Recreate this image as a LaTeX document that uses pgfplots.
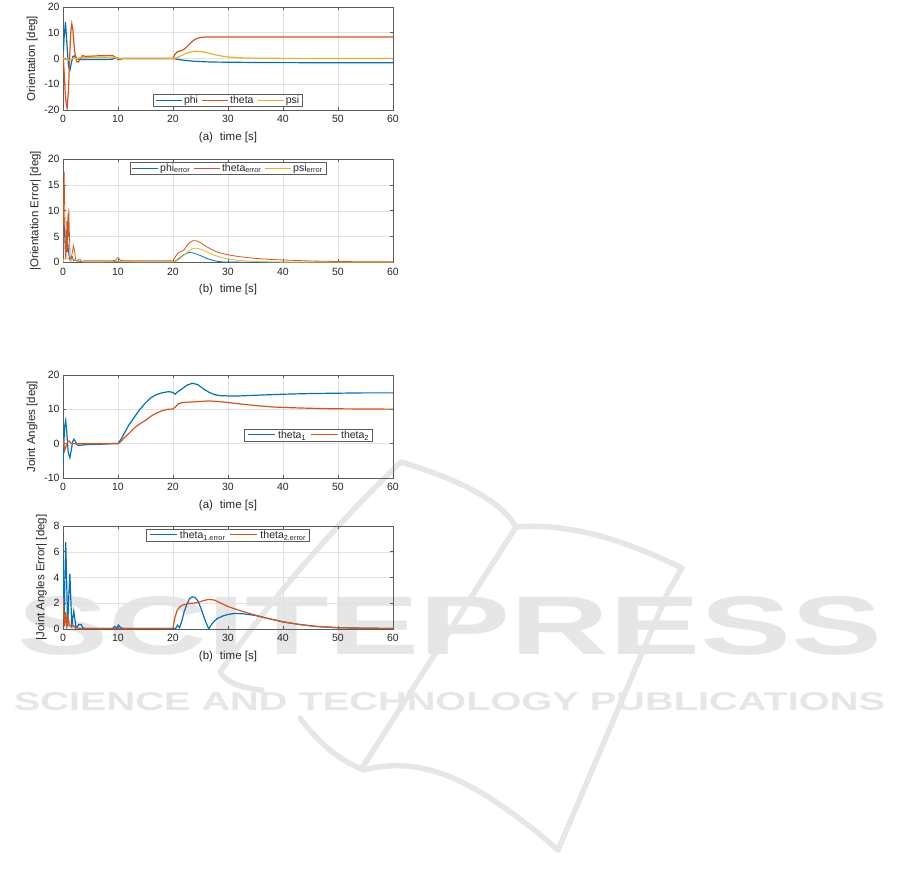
\documentclass[border=0pt]{standalone}
\usepackage{fontspec}
\setmainfont{Liberation Sans}
\usepackage{pgfplots}
\pgfplotsset{compat=1.18}

\definecolor{mblue}{RGB}{0,114,189}
\definecolor{morange}{RGB}{217,83,25}
\definecolor{myellow}{RGB}{237,177,32}
\definecolor{axgray}{RGB}{38,38,38}
\definecolor{gridgray}{RGB}{225,225,225}
\definecolor{wm}{RGB}{229,230,229}

\pgfplotsset{
  mstyle/.style={
    scale only axis, width=330pt, height=103pt,
    xmin=0, xmax=60, xtick={0,10,...,60},
    grid=major, major grid style={gridgray, line width=0.5pt},
    axis line style={axgray!75, line width=0.6pt},
    tick style={axgray!75, line width=0.6pt},
    tick align=inside, major tick length=3pt,
    every tick label/.append style={font=\fontsize{10.5}{12}\selectfont, text=axgray},
    xticklabel shift=2pt,
    /pgf/number format/assume math mode=true,
    label style={font=\fontsize{11.5}{13}\selectfont, text=axgray},
    xlabel style={yshift=-2pt},
    legend style={font=\fontsize{10.5}{12}\selectfont, draw=axgray!75, fill=white,
      line width=0.6pt, inner xsep=2pt, inner ysep=0pt,
      nodes={inner sep=1.5pt, text=axgray},
      /tikz/every even column/.append style={column sep=2pt}},
    legend cell align=left,
    legend columns=-1,
  },
  lgline/.style={legend image code/.code={\draw[#1] (0pt,0pt) -- (26pt,0pt);}},
  lgnone/.style={legend image code/.code={}},
}
% a coloured sample line written inside a legend entry
\newcommand{\lgsample}[1]{\textcolor{#1}{\rule[0.6ex]{27pt}{1.2pt}}\hspace{3pt}}

\begin{document}
\begin{tikzpicture}
\path[use as bounding box] (0pt,0pt) rectangle (901pt,886pt);

% publisher mark in the background
\begin{scope}[x=1pt,y=-1pt,yshift=886pt]
  \begin{scope}[wm, line width=5.5pt, line cap=round, line join=round]
    \draw (262,690) .. controls (240,688) and (226,682) .. (220,672)
          .. controls (270,600) and (340,520) .. (401,462)
          .. controls (460,480) and (500,500) .. (516,527)
          .. controls (580,522) and (640,548) .. (682,568) -- (668,592)
          -- (558,850);
    \draw (516,527) -- (362,768);
    \draw (300,718) .. controls (318,742) and (338,760) .. (364,770)
          .. controls (410,758) and (450,772) .. (493,800)
          .. controls (520,818) and (540,834) .. (558,850);
  \end{scope}
  \node[wm, inner sep=0pt] at (450,626)
    {\resizebox{864pt}{58pt}{\bfseries SCITEPRESS}};
  \node[wm, inner sep=0pt] at (449.5,702)
    {\resizebox{871pt}{18pt}{\bfseries SCIENCE AND TECHNOLOGY PUBLICATIONS}};
\end{scope}

% ---------- (a) orientation ----------
\begin{axis}[mstyle, at={(63pt,776pt)}, anchor=south west,
  ymin=-20, ymax=20, ytick={-20,-10,...,20},
  ylabel={Orientation [deg]}, xlabel={(a)\hspace{7pt}time [s]},
  legend style={at={(0.5,0.03)}, anchor=south}]
\addplot[mblue, line width=1.2pt, forget plot] table {
0 0
0.2 8
0.45 14.2
0.7 6
1.0 -3
1.25 -4.6
1.5 -2
1.8 0.8
2.1 1.0
2.5 0
3 -0.4
5 -0.4
7 -0.4
9 -0.3
9.5 0.4
10 0.1
10.5 0
20 0
21 -0.4
22 -0.7
23 -0.9
24 -1.1
26 -1.3
28 -1.4
30 -1.45
35 -1.55
40 -1.6
50 -1.65
60 -1.65
};
\addplot[morange, line width=1.2pt, forget plot] table {
0 3
0.2 -5
0.45 -15
0.75 -19.5
1.0 -12
1.2 0
1.4 10
1.6 13.5
1.8 11
2.1 3
2.5 -1.2
2.8 -1.4
3.2 0
3.6 1.2
4.0 0.8
5 0.9
6 1.0
7 1.1
8 1.1
9 1.2
9.5 0.5
10 -0.5
10.5 -0.3
11 0
20 0
20.3 1.5
20.8 2.6
21.5 3.0
22 3.6
22.5 4.5
23 5.6
23.5 6.6
24 7.4
24.5 7.9
25 8.2
26 8.35
28 8.35
60 8.35
};
\addplot[myellow, line width=1.2pt, forget plot] table {
0 0
0.5 -0.4
1.0 -0.6
1.5 -0.4
2 0.3
2.5 -0.2
3 0.4
4 0.3
5 0.4
8 0.5
9 0.6
9.5 0.4
10 0
20 0
20.5 0.2
21 0.6
22 1.6
23 2.4
24 2.8
25 2.7
26 2.3
27 1.8
28 1.3
29 0.9
30 0.6
32 0.3
35 0.1
40 0.05
60 0
};
\addlegendimage{lgline, mblue, line width=1.2pt}
\addlegendentry{phi}
\addlegendimage{lgline, morange, line width=1.2pt}
\addlegendentry{theta}
\addlegendimage{lgline, myellow, line width=1.2pt}
\addlegendentry{psi}
\end{axis}

% ---------- (b) orientation error ----------
\begin{axis}[mstyle, at={(63pt,623.7pt)}, anchor=south west,
  ymin=0, ymax=20, ytick={0,5,...,20},
  ylabel={|Orientation Error| [deg]}, xlabel={(b)\hspace{7pt}time [s]},
  legend style={at={(0.5,0.977)}, anchor=north}]
\addplot[mblue, line width=0.8pt, forget plot] table {
0 0
0.1 6
0.2 8.6
0.3 5
0.45 1
0.6 3
0.75 4
0.9 3.8
1.05 1.5
1.2 0.5
1.5 1.0
1.7 1.1
1.9 0.3
2.2 0.6
2.5 0.3
3 0.2
4 0.05
9 0.05
9.5 0.2
10 0.1
11 0.05
20 0.05
20.5 0.3
21 0.7
21.5 1.1
22 1.5
22.5 1.75
23 1.9
23.5 1.85
24 1.7
25 1.3
26 0.8
27 0.45
28 0.2
29 0.08
30 0.03
60 0
};
\addplot[morange, line width=0.8pt, forget plot] table {
0 0
0.1 12
0.2 17.6
0.35 8
0.5 0.5
0.6 3
0.7 8
0.8 2
0.9 9.5
1.0 5
1.05 10.4
1.15 6
1.3 1
1.45 0.3
1.7 2
1.9 3.2
2.1 2.2
2.3 0.4
2.6 0.2
2.9 0.6
3.1 0.6
3.3 0.2
4 0.3
9 0.3
9.6 0.4
9.9 0.9
10.1 0.9
10.4 0.4
11 0.3
19 0.3
20 0.25
20.5 1.2
21 1.9
21.5 2.1
22 2.4
22.5 3.2
23 3.8
23.5 4.15
24 4.2
24.5 4.1
25 3.8
26 3.1
27 2.5
28 2.0
29 1.7
30 1.45
32 1.1
35 0.75
38 0.55
40 0.45
45 0.25
50 0.15
55 0.1
60 0.1
};
\addplot[myellow, line width=0.8pt, forget plot] table {
0 0
0.2 0.8
0.5 0.9
1 0.7
1.5 0.5
2 0.6
2.5 0.4
3 0.5
3.5 0.1
4 0.05
9 0.1
10 0.1
20 0.05
20.5 0.2
21 0.5
22 1.4
23 2.3
23.5 2.6
24 2.75
24.5 2.7
25 2.55
26 2.1
27 1.6
28 1.2
29 0.9
30 0.65
32 0.35
35 0.15
38 0.06
40 0.03
60 0
};
\addlegendimage{lgline, mblue, line width=0.8pt}
\addlegendentry{phi\textsubscript{error}}
\addlegendimage{lgline, morange, line width=0.8pt}
\addlegendentry{theta\textsubscript{error}}
\addlegendimage{lgline, myellow, line width=0.8pt}
\addlegendentry{psi\textsubscript{error}}
\end{axis}

% ---------- (a) joint angles ----------
\begin{axis}[mstyle, at={(63pt,408pt)}, anchor=south west,
  ymin=-10, ymax=20, ytick={-10,0,10,20},
  ylabel={Joint Angles [deg]}, xlabel={(a)\hspace{7pt}time [s]},
  legend style={at={(0.939,0.472)}, anchor=north east}]
\addplot[mblue, line width=1.2pt, forget plot] table {
0 -5.8
0.15 0
0.3 5
0.5 6.8
0.7 3
0.95 -2.5
1.25 -4.1
1.5 -2
1.75 0.6
2.0 1.3
2.3 0.5
2.6 -0.4
3 -0.5
4 -0.3
6 -0.2
8 -0.1
9.5 0.1
10 0
10.5 1.2
11 2.6
12 5.5
13 7.8
14 10
15 11.9
16 13.4
17 14.3
18 14.8
19 15.1
19.5 15.1
20 14.9
20.4 14.4
20.7 14.9
21.5 15.8
22.5 17.0
23.5 17.6
24.5 17.2
25.5 16.0
26.5 15.0
27.5 14.3
28.5 14.0
30 13.9
32 13.9
35 14.1
40 14.4
45 14.6
50 14.7
55 14.8
60 14.8
};
\addplot[morange, line width=1.2pt, forget plot] table {
0 1.3
0.1 0.5
0.3 -2
0.6 -0.5
0.9 0.7
1.1 0.8
1.4 0.2
2 0
10 0
10.5 0.6
11 1.5
12 3.0
13 4.6
14 5.8
15 6.8
16 8.0
17 8.9
18 9.6
19 10.0
20 10.1
20.5 10.8
21 11.6
21.5 11.9
22 12.0
24 12.2
26 12.4
27 12.4
28 12.3
30 12.0
32 11.6
35 11.1
38 10.7
40 10.55
45 10.3
50 10.15
55 10.1
60 10.05
};
\addlegendimage{lgnone}
\addlegendentry{\lgsample{mblue}theta\textsubscript{1}}
\addlegendimage{lgnone}
\addlegendentry{\lgsample{morange}theta\textsubscript{2}}
\end{axis}

% ---------- (b) joint angle error ----------
\begin{axis}[mstyle, at={(63pt,257pt)}, anchor=south west,
  ymin=0, ymax=8, ytick={0,2,...,8},
  ylabel={|Joint Angles Error| [deg]}, xlabel={(b)\hspace{7pt}time [s]},
  legend style={at={(0.5,0.968)}, anchor=north}]
\addplot[mblue, line width=1.2pt, forget plot] table {
0 5.8
0.1 3
0.2 0.3
0.35 4
0.5 6.75
0.65 4
0.85 0.2
1.05 2.5
1.25 4.3
1.45 2
1.6 0.1
1.75 0.8
1.95 1.4
2.15 0.8
2.35 0.1
2.6 0.2
2.9 0.35
3.3 0.35
3.6 0.1
4 0.05
9 0.05
9.4 0.2
9.7 0.05
10.1 0.3
10.5 0.1
11 0.05
20.5 0.05
20.8 0.3
21.2 0.1
21.6 0.6
22 1.3
22.5 1.9
23 2.35
23.5 2.5
24 2.45
24.5 2.2
25 1.7
25.5 1.1
26 0.5
26.5 0.02
27 0.35
27.5 0.6
28 0.8
29 1.0
30 1.13
31 1.2
32 1.2
33 1.17
35 1.05
37 0.85
40 0.55
43 0.35
46 0.2
50 0.1
55 0.06
60 0.04
};
\addplot[morange, line width=1.2pt, forget plot] table {
0 2.5
0.15 1.2
0.3 0.2
0.5 1.3
0.7 0.2
0.95 0.9
1.15 0.3
1.4 0.2
1.8 0.3
2.2 0.1
3 0.05
20 0.05
20.3 0.8
20.7 1.4
21.2 1.7
21.7 1.85
22.5 1.95
23.5 2.0
24.5 2.05
25.5 2.2
26.5 2.3
27.5 2.25
28.5 2.05
30 1.75
31 1.6
32 1.45
34 1.2
36 0.95
38 0.75
40 0.56
43 0.35
46 0.2
50 0.1
55 0.06
60 0.04
};
\addlegendimage{lgnone}
\addlegendentry{\lgsample{mblue}theta\textsubscript{1.error}}
\addlegendimage{lgnone}
\addlegendentry{\lgsample{morange}theta\textsubscript{2.error}}
\end{axis}
\end{tikzpicture}
\end{document}
